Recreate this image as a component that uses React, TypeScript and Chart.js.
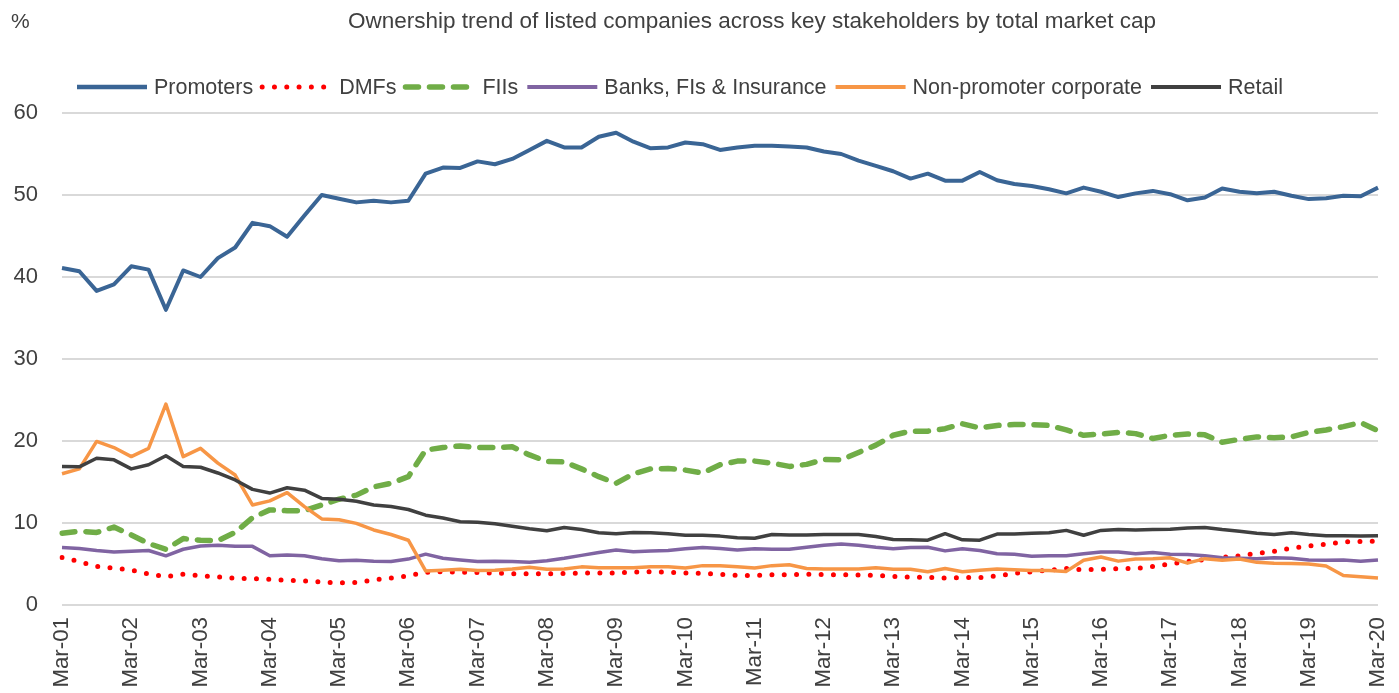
import React, { useEffect, useRef } from 'react';
import { Chart, registerables } from 'chart.js';

Chart.register(...registerables);

const FONT = "'Liberation Sans', Arial, sans-serif";
const TEXT_COLOR = '#404040';

const TITLE = 'Ownership trend of listed companies across key stakeholders by total market cap';
const UNIT_LABEL = '%';

const QUARTER_MONTHS = ['Mar', 'Jun', 'Sep', 'Dec'];
const YEARS = ['01', '02', '03', '04', '05', '06', '07', '08', '09', '10', '11', '12', '13', '14', '15', '16', '17', '18', '19', '20'];
const QUARTER_LABELS: string[] = [];
YEARS.forEach((y) => QUARTER_MONTHS.forEach((m) => QUARTER_LABELS.push(`${m}-${y}`)));
const LABELS = QUARTER_LABELS.slice(0, 77);

const Y_MIN = 0;
const Y_MAX = 60;
const Y_STEP = 10;

const PROMOTERS = [
  41.1, 40.7, 38.3, 39.1, 41.3, 40.9, 36.0, 40.8, 40.0, 42.3, 43.6, 46.6, 46.2, 44.9, 47.5, 50.0, 49.55, 49.1, 49.3, 49.1,
  49.3, 52.6, 53.35, 53.3, 54.1, 53.75, 54.4, 55.5, 56.6, 55.8, 55.8, 57.1, 57.6, 56.5, 55.7, 55.8, 56.4, 56.2, 55.5, 55.8,
  56.0, 56.0, 55.9, 55.8, 55.3, 55.0, 54.2, 53.55, 52.9, 52.0, 52.6, 51.75, 51.75, 52.8, 51.8, 51.35, 51.1, 50.7, 50.2, 50.9,
  50.4, 49.75, 50.2, 50.5, 50.1, 49.35, 49.7, 50.8, 50.4, 50.2, 50.4, 49.9, 49.5, 49.6, 49.9, 49.85, 50.9,
];

const DMFS = [
  5.8, 5.3, 4.7, 4.5, 4.25, 3.8, 3.45, 3.75, 3.55, 3.45, 3.25, 3.2, 3.15, 3.0, 2.95, 2.8, 2.7, 2.75, 3.05, 3.3,
  3.55, 4.0, 4.05, 4.0, 3.95, 3.9, 3.8, 3.8, 3.8, 3.85, 3.9, 3.9, 3.9, 4.0, 4.05, 4.0, 3.9, 3.85, 3.75, 3.6,
  3.6, 3.7, 3.7, 3.75, 3.7, 3.7, 3.65, 3.6, 3.5, 3.4, 3.35, 3.3, 3.35, 3.35, 3.55, 3.85, 4.05, 4.25, 4.45, 4.3,
  4.35, 4.45, 4.45, 4.7, 5.0, 5.3, 5.55, 5.8, 6.0, 6.3, 6.55, 6.95, 7.2, 7.4, 7.7, 7.75, 7.8,
];

const FIIS = [
  8.75, 9.0, 8.85, 9.5, 8.55, 7.5, 6.8, 8.1, 7.9, 7.85, 8.85, 10.65, 11.6, 11.5, 11.5, 12.2, 12.9, 13.4, 14.4, 14.85,
  15.65, 18.9, 19.2, 19.4, 19.2, 19.2, 19.3, 18.3, 17.5, 17.45, 16.6, 15.65, 14.85, 16.0, 16.6, 16.65, 16.45, 16.1, 17.1, 17.55,
  17.55, 17.3, 16.9, 17.15, 17.75, 17.7, 18.6, 19.5, 20.7, 21.2, 21.2, 21.5, 22.1, 21.6, 21.9, 22.0, 22.0, 21.9, 21.35, 20.7,
  20.85, 21.05, 20.9, 20.3, 20.7, 20.85, 20.75, 19.85, 20.2, 20.5, 20.4, 20.5, 21.05, 21.35, 21.75, 22.25, 21.25,
];

const BANKS = [
  7.0, 6.9, 6.65, 6.45, 6.55, 6.65, 6.0, 6.8, 7.2, 7.3, 7.15, 7.15, 6.0, 6.1, 6.0, 5.65, 5.4, 5.45, 5.35, 5.3,
  5.6, 6.2, 5.7, 5.5, 5.3, 5.35, 5.3, 5.2, 5.4, 5.7, 6.05, 6.4, 6.7, 6.5, 6.6, 6.65, 6.85, 7.0, 6.9, 6.7,
  6.85, 6.8, 6.8, 7.05, 7.3, 7.45, 7.3, 7.05, 6.85, 7.0, 7.05, 6.6, 6.85, 6.65, 6.25, 6.2, 5.95, 6.0, 6.0, 6.25,
  6.45, 6.45, 6.25, 6.4, 6.2, 6.15, 6.0, 5.75, 5.7, 5.65, 5.75, 5.7, 5.5, 5.45, 5.5, 5.35, 5.5,
];

const NON_PROMOTER_CORP = [
  16.0, 16.6, 19.95, 19.2, 18.1, 19.1, 24.5, 18.1, 19.1, 17.3, 15.85, 12.2, 12.7, 13.7, 12.0, 10.5, 10.4, 9.95, 9.15, 8.6,
  7.9, 4.15, 4.25, 4.35, 4.2, 4.25, 4.4, 4.6, 4.35, 4.4, 4.65, 4.55, 4.55, 4.55, 4.65, 4.65, 4.5, 4.8, 4.8, 4.65,
  4.5, 4.8, 4.9, 4.45, 4.4, 4.4, 4.4, 4.55, 4.35, 4.35, 4.05, 4.45, 4.05, 4.25, 4.4, 4.3, 4.2, 4.2, 4.1, 5.45,
  5.85, 5.35, 5.6, 5.65, 5.75, 5.1, 5.65, 5.45, 5.6, 5.2, 5.1, 5.05, 5.0, 4.75, 3.6, 3.45, 3.3,
];

const RETAIL = [
  16.9, 16.85, 17.9, 17.7, 16.6, 17.1, 18.2, 16.9, 16.8, 16.1, 15.25, 14.1, 13.65, 14.3, 14.0, 13.0, 12.9, 12.65, 12.2, 12.0,
  11.65, 10.95, 10.6, 10.15, 10.1, 9.9, 9.6, 9.3, 9.05, 9.45, 9.2, 8.8, 8.7, 8.85, 8.8, 8.7, 8.5, 8.5, 8.4, 8.2,
  8.15, 8.6, 8.55, 8.55, 8.6, 8.6, 8.6, 8.35, 8.0, 7.95, 7.9, 8.7, 7.95, 7.9, 8.65, 8.65, 8.75, 8.8, 9.1, 8.5,
  9.1, 9.2, 9.15, 9.2, 9.25, 9.4, 9.45, 9.2, 9.0, 8.75, 8.6, 8.8, 8.6, 8.45, 8.45, 8.4, 8.45,
];

const SERIES_NAMES = ['Promoters', 'DMFs', 'FIIs', 'Banks, FIs & Insurance', 'Non-promoter corporate', 'Retail'];

const headerLegendPlugin = {
  id: 'headerLegend',
  afterDraw(chart: any) {
    const ctx = chart.ctx;
    ctx.save();
    ctx.fillStyle = TEXT_COLOR;
    ctx.textBaseline = 'middle';
    // unit label
    ctx.font = `21px ${FONT}`;
    ctx.textAlign = 'left';
    ctx.fillText(UNIT_LABEL, 11, 22);
    // title
    ctx.font = `22.5px ${FONT}`;
    ctx.textAlign = 'center';
    ctx.fillText(TITLE, 752, 22);
    // legend
    ctx.font = `21.5px ${FONT}`;
    ctx.textAlign = 'left';
    const lineLen = 70;
    let x = 77;
    const y = 87;
    chart.data.datasets.forEach((ds: any) => {
      ctx.save();
      ctx.strokeStyle = ds.borderColor;
      ctx.lineWidth = ds.legendWidth || ds.borderWidth;
      ctx.lineCap = ds.borderCapStyle || 'butt';
      ctx.setLineDash(ds.borderDash || []);
      ctx.beginPath();
      ctx.moveTo(x, y);
      ctx.lineTo(x + lineLen, y);
      ctx.stroke();
      ctx.restore();
      const tx = x + lineLen + 7;
      ctx.fillStyle = TEXT_COLOR;
      ctx.fillText(ds.label, tx, y + 1);
      x = tx + ctx.measureText(ds.label).width + 9;
    });
    ctx.restore();
  },
};

export default function App() {
  const canvasRef = useRef<HTMLCanvasElement | null>(null);

  useEffect(() => {
    document.body.style.margin = '0';
    const canvas = canvasRef.current;
    if (!canvas) return;
    const chart = new Chart(canvas, {
      type: 'line',
      data: {
        labels: LABELS,
        datasets: [
          { label: SERIES_NAMES[0], data: PROMOTERS, borderColor: '#3A6595', borderWidth: 4, legendWidth: 4.5, order: 5 } as any,
          { label: SERIES_NAMES[1], data: DMFS, borderColor: '#FF0000', borderWidth: 5, borderDash: [0, 12.3], borderCapStyle: 'round', order: 4 } as any,
          { label: SERIES_NAMES[2], data: FIIS, borderColor: '#70AD47', borderWidth: 5.5, borderDash: [13, 11], borderCapStyle: 'round', order: 3 } as any,
          { label: SERIES_NAMES[3], data: BANKS, borderColor: '#8064A2', borderWidth: 3.5, legendWidth: 4, order: 2 } as any,
          { label: SERIES_NAMES[4], data: NON_PROMOTER_CORP, borderColor: '#F79646', borderWidth: 3.5, legendWidth: 4, order: 1 } as any,
          { label: SERIES_NAMES[5], data: RETAIL, borderColor: '#404040', borderWidth: 3.5, legendWidth: 4, order: 0 } as any,
        ],
      },
      options: {
        animation: false,
        responsive: false,
        devicePixelRatio: 1,
        layout: { padding: { top: 113, left: 14, right: 21, bottom: 5 } },
        elements: {
          point: { radius: 0, hoverRadius: 0 },
          line: { tension: 0, fill: false, borderJoinStyle: 'round' },
        },
        plugins: {
          legend: { display: false },
          title: { display: false },
          tooltip: { enabled: false },
        },
        scales: {
          x: {
            type: 'category',
            offset: false,
            grid: { display: false, drawTicks: false },
            border: { display: false },
            afterFit: (scale: any) => {
              scale.paddingLeft = 0;
              scale.paddingRight = 0;
              scale.height = 83;
            },
            ticks: {
              autoSkip: false,
              minRotation: 90,
              maxRotation: 90,
              padding: 12,
              color: TEXT_COLOR,
              font: { family: FONT, size: 22.3 },
              callback: (_v: any, i: number) => (i % 4 === 0 ? LABELS[i] : ''),
            },
          },
          y: {
            min: Y_MIN,
            max: Y_MAX,
            grid: { color: '#D9D9D9', lineWidth: 2, drawTicks: false },
            border: { display: false },
            afterFit: (scale: any) => {
              scale.width = 48;
            },
            ticks: {
              stepSize: Y_STEP,
              padding: 24,
              color: TEXT_COLOR,
              font: { family: FONT, size: 22 },
            },
          },
        },
      },
      plugins: [headerLegendPlugin],
    });
    return () => chart.destroy();
  }, []);

  return (
    <div style={{ width: 1399, height: 693 }}>
      <canvas ref={canvasRef} width={1399} height={693} style={{ display: 'block' }} />
    </div>
  );
}
